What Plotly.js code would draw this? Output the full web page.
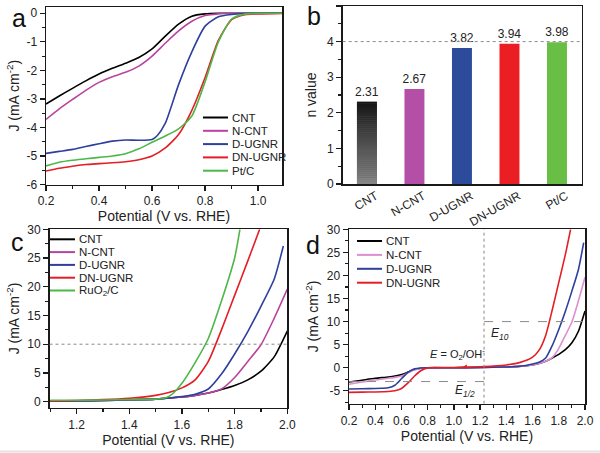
<!DOCTYPE html>
<html><head><meta charset="utf-8">
<script src="https://cdn.plot.ly/plotly-3.0.1.min.js"></script>
<style>html,body{margin:0;padding:0;background:#fff;}#chart{width:600px;height:453px;}</style>
</head><body><div id="chart"></div>
<script>
// ---------------- DATA ----------------
// Panel a: ORR polarisation curves (J vs potential)
const orrNames = ['CNT', 'N-CNT', 'D-UGNR', 'DN-UGNR', 'Pt/C'];
const orrColors = ['#000000', '#b8449f', '#2e3f9c', '#e31e24', '#4db748'];
const orrV_CNT = [0.2,0.25,0.3,0.35,0.4,0.45,0.5,0.55,0.6,0.65,0.7,0.75,0.8,0.85,0.9,1.0,1.1];
const orrJ_CNT = [-3.18,-2.9,-2.63,-2.37,-2.13,-1.93,-1.75,-1.55,-1.25,-0.8,-0.38,-0.1,-0.02,0,0,0,0];
const orrV_NCNT = [0.2,0.25,0.3,0.35,0.4,0.45,0.5,0.55,0.6,0.65,0.7,0.75,0.8,0.85,0.9,1.0,1.1];
const orrJ_NCNT = [-3.72,-3.35,-3.02,-2.7,-2.42,-2.22,-2.07,-1.85,-1.5,-1.05,-0.62,-0.28,-0.08,-0.02,0,0,0];
const orrV_DUGNR = [0.2,0.25,0.3,0.35,0.4,0.45,0.5,0.55,0.6,0.62,0.65,0.7,0.75,0.8,0.85,0.9,0.95,1.0,1.1];
const orrJ_DUGNR = [-4.91,-4.84,-4.77,-4.67,-4.57,-4.48,-4.44,-4.45,-4.42,-4.28,-3.85,-2.5,-1.35,-0.45,-0.12,-0.04,-0.01,0,0];
const orrV_DNUGNR = [0.2,0.25,0.3,0.35,0.4,0.45,0.5,0.55,0.6,0.65,0.7,0.75,0.8,0.85,0.9,0.95,1.0,1.1];
const orrJ_DNUGNR = [-5.53,-5.43,-5.36,-5.3,-5.27,-5.24,-5.2,-5.13,-5.0,-4.72,-4.25,-3.4,-2.25,-0.95,-0.22,-0.05,-0.02,0];
const orrV_PtC = [0.2,0.25,0.3,0.35,0.4,0.45,0.5,0.55,0.6,0.65,0.7,0.75,0.8,0.85,0.9,0.95,1.0,1.1];
const orrJ_PtC = [-5.35,-5.22,-5.15,-5.1,-5.05,-5.0,-4.92,-4.75,-4.52,-4.3,-4.05,-3.6,-2.4,-1.0,-0.2,-0.03,0,0];

// Panel b: electron transfer number
const nCategories = ['CNT', 'N-CNT', 'D-UGNR', 'DN-UGNR', 'Pt/C'];
const nValues = [2.31, 2.67, 3.82, 3.94, 3.98];
const nColors = ['#555555', '#b44fa8', '#2d4b9b', '#eb1e23', '#69be46'];
const nGradientTop = [20, 20, 20];     // CNT bar gradient (rgb) at top
const nGradientBottom = [135, 135, 135]; // ... at bottom
const nIdeal = 4;

// Panel c: OER polarisation curves
const oerNames = ['CNT', 'N-CNT', 'D-UGNR', 'DN-UGNR', 'RuO<sub>2</sub>/C'];
const oerColors = ['#000000', '#b8449f', '#2e3f9c', '#e31e24', '#4db748'];
const oerV_CNT = [1.1,1.2,1.3,1.4,1.5,1.6,1.65,1.7,1.75,1.8,1.85,1.9,1.95,2.0];
const oerJ_CNT = [0.1,0.15,0.2,0.3,0.45,0.8,1.1,1.5,2.1,2.8,3.8,5.3,7.8,12.3];
const oerV_NCNT = [1.1,1.2,1.3,1.4,1.5,1.6,1.65,1.7,1.75,1.8,1.85,1.9,1.95,2.0];
const oerJ_NCNT = [0.1,0.15,0.2,0.3,0.45,0.8,1.1,1.5,2.2,4.2,7.0,9.9,14.5,19.6];
const oerV_DUGNR = [1.1,1.2,1.3,1.4,1.5,1.6,1.65,1.7,1.75,1.8,1.85,1.9,1.95,1.985];
const oerJ_DUGNR = [0.1,0.15,0.2,0.3,0.45,0.9,1.3,2.2,4.8,8.3,12.2,16.6,21.3,27.1];
const oerV_DNUGNR = [1.1,1.2,1.3,1.4,1.5,1.55,1.6,1.65,1.7,1.75,1.8,1.85,1.895];
const oerJ_DNUGNR = [0.1,0.2,0.35,0.6,1.1,1.6,2.4,3.8,7.0,12.5,18.5,24.5,30];
const oerV_RuO2 = [1.1,1.2,1.3,1.4,1.5,1.53,1.55,1.57,1.6,1.65,1.7,1.75,1.8,1.82];
const oerJ_RuO2 = [0.25,0.25,0.3,0.35,0.45,0.6,0.9,1.6,3.2,6.8,11.0,17.5,25.0,30];
const oerRef = 10;

// Panel d: overall ORR + OER window
const biNames = ['CNT', 'N-CNT', 'D-UGNR', 'DN-UGNR'];
const biColors = ['#000000', '#dc8fd2', '#2e3f9c', '#e31e24'];
const biV_CNT = [0.2,0.3,0.4,0.5,0.55,0.6,0.65,0.7,0.75,0.8,1.0,1.2,1.4,1.5,1.6,1.65,1.7,1.75,1.8,1.85,1.9,1.95,2.0];
const biJ_CNT = [-3.1,-2.7,-2.3,-2.0,-1.8,-1.5,-0.95,-0.4,-0.1,0,0,0.05,0.15,0.3,0.6,0.9,1.4,2.1,2.9,3.9,5.4,7.9,12.3];
const biV_NCNT = [0.2,0.3,0.4,0.5,0.55,0.6,0.65,0.7,0.75,0.8,1.0,1.2,1.4,1.5,1.6,1.65,1.7,1.75,1.8,1.85,1.9,1.95,2.0];
const biJ_NCNT = [-3.6,-3.1,-2.65,-2.3,-2.1,-1.8,-1.1,-0.5,-0.12,-0.02,0,0.05,0.15,0.3,0.6,0.9,1.4,2.2,4.2,7.0,9.9,14.5,19.6];
const biV_DUGNR = [0.2,0.3,0.4,0.45,0.5,0.55,0.6,0.65,0.7,0.75,0.8,1.0,1.2,1.4,1.5,1.6,1.65,1.7,1.75,1.8,1.85,1.9,1.95,1.99];
const biJ_DUGNR = [-4.6,-4.55,-4.5,-4.45,-4.35,-3.8,-2.4,-1.0,-0.25,-0.05,0,0,0.05,0.15,0.3,0.8,1.2,2.1,4.8,8.3,12.2,16.6,21.3,27.1];
const biV_DNUGNR = [0.2,0.3,0.4,0.5,0.55,0.6,0.65,0.7,0.75,0.8,1.0,1.1,1.2,1.3,1.4,1.5,1.6,1.65,1.7,1.75,1.8,1.85,1.89];
const biJ_DNUGNR = [-5.35,-5.3,-5.25,-5.15,-5.0,-4.5,-3.3,-1.8,-0.6,-0.05,0.05,0.1,0.2,0.35,0.6,1.1,2.3,3.8,7.0,12.5,18.5,24.5,30];
const biE0 = 1.23;   // thermodynamic O2/OH- potential
const biE10 = 10;    // OER reference current
const biEhalf = -3;  // half-wave current level

// tick labels
const tickA_x = [0.2, 0.4, 0.6, 0.8, 1.0];
const tickA_xt = ['0.2', '0.4', '0.6', '0.8', '1.0'];
const tickA_y = [-6, -5, -4, -3, -2, -1, 0];
const tickA_yt = ['-6', '-5', '-4', '-3', '-2', '-1', '0'];
const tickB_y = [0, 1, 2, 3, 4, 5];
const tickC_x = [1.2, 1.4, 1.6, 1.8, 2.0];
const tickC_xt = ['1.2', '1.4', '1.6', '1.8', '2.0'];
const tickC_y = [0, 5, 10, 15, 20, 25, 30];
const tickD_x = [0.2, 0.4, 0.6, 0.8, 1.0, 1.2, 1.4, 1.6, 1.8, 2.0];
const tickD_xt = ['0.2', '0.4', '0.6', '0.8', '1.0', '1.2', '1.4', '1.6', '1.8', '2.0'];
const tickD_y = [-5, 0, 5, 10, 15, 20, 25, 30];
const tickD_yt = ['-5', '0', '5', '10', '15', '20', '25', '30'];

// ---------------- BUILD ----------------
const FONT = 'Liberation Sans, Arial, Helvetica, sans-serif';
const px = x => x / 600;
const py = y => 1 - y / 453;

const traces = [];
function addLine(x, y, color, xa, ya, name) {
  traces.push({type: 'scatter', mode: 'lines', x: x, y: y, name: name,
    line: {color: color, width: 1.6, shape: 'spline', smoothing: 0.6},
    xaxis: xa, yaxis: ya, showlegend: false, hoverinfo: 'skip'});
}
// panel a
[[orrV_CNT, orrJ_CNT], [orrV_NCNT, orrJ_NCNT], [orrV_DUGNR, orrJ_DUGNR],
 [orrV_DNUGNR, orrJ_DNUGNR], [orrV_PtC, orrJ_PtC]].forEach((s, i) =>
  addLine(s[0], s[1], orrColors[i], 'x', 'y', orrNames[i]));
// panel b
traces.push({type: 'bar', x: nCategories, y: nValues, width: 0.42,
  marker: {color: nColors, line: {width: 0}},
  text: nValues.map(v => v.toFixed(2)), textposition: 'outside', cliponaxis: false,
  constraintext: 'none',
  textfont: {family: FONT, size: 12, color: '#222'},
  xaxis: 'x2', yaxis: 'y2', showlegend: false, hoverinfo: 'skip'});
const NSEG = 40;
for (let i = 0; i < NSEG; i++) {
  const f = (i + 0.5) / NSEG; // 0 bottom -> 1 top
  const c = nGradientBottom.map((b, k) => Math.round(b + (nGradientTop[k] - b) * f));
  traces.push({type: 'bar', x: [nCategories[0]], y: [nValues[0] / NSEG], base: [nValues[0] * i / NSEG],
    width: 0.42, marker: {color: 'rgb(' + c.join(',') + ')', line: {width: 0}},
    textposition: 'none',
    xaxis: 'x2', yaxis: 'y2', showlegend: false, hoverinfo: 'skip'});
}
// panel c
[[oerV_CNT, oerJ_CNT], [oerV_NCNT, oerJ_NCNT], [oerV_DUGNR, oerJ_DUGNR],
 [oerV_DNUGNR, oerJ_DNUGNR], [oerV_RuO2, oerJ_RuO2]].forEach((s, i) =>
  addLine(s[0], s[1], oerColors[i], 'x3', 'y3', oerNames[i]));
// panel d
[[biV_CNT, biJ_CNT], [biV_NCNT, biJ_NCNT], [biV_DUGNR, biJ_DUGNR],
 [biV_DNUGNR, biJ_DNUGNR]].forEach((s, i) =>
  addLine(s[0], s[1], biColors[i], 'x4', 'y4', biNames[i]));

function axis(extra) {
  return Object.assign({
    showline: true, mirror: true, linecolor: '#1a1a1a', linewidth: 1.5,
    ticks: 'outside', ticklen: 5, tickwidth: 1.3, tickcolor: '#1a1a1a',
    showgrid: false, zeroline: false, fixedrange: true,
    tickfont: {family: FONT, size: 12, color: '#222'}
  }, extra);
}
const minor5 = {ticks: 'outside', ticklen: 3, tickwidth: 1.1, tickcolor: '#1a1a1a', showgrid: false};
const titleFont = {family: FONT, size: 14, color: '#222'};

const layout = {
  width: 600, height: 453, margin: {l: 0, r: 0, t: 0, b: 0},
  paper_bgcolor: '#fff', plot_bgcolor: '#fff', showlegend: false, barmode: 'overlay',
  font: {family: FONT, color: '#222'},
  xaxis: axis({domain: [px(46), px(282)], range: [0.2, 1.09], anchor: 'y',
    tickvals: tickA_x, ticktext: tickA_xt, minor: Object.assign({dtick: 0.1, tick0: 0.1}, minor5),
    title: {text: 'Potential (V vs. RHE)', standoff: 1, font: titleFont}}),
  yaxis: axis({domain: [py(184.5), py(7)], range: [-6, 0.22], anchor: 'x',
    tickvals: tickA_y, ticktext: tickA_yt, minor: Object.assign({dtick: 0.5, tick0: 0}, minor5),
    title: {text: 'J (mA cm<sup>-2</sup>)', standoff: 3, font: titleFont}}),
  xaxis2: axis({domain: [px(342.7), px(581.7)], range: [-0.51, 4.52], anchor: 'y2',
    ticks: '', tickangle: -30, type: 'category', ticklabelshift: 9, ticklabelstandoff: -1}),
  yaxis2: axis({domain: [py(184), py(6)], range: [0, 5], anchor: 'x2',
    tickvals: tickB_y, minor: Object.assign({dtick: 0.5, tick0: 0}, minor5),
    title: {text: 'n value', standoff: 7, font: titleFont}}),
  xaxis3: axis({domain: [px(49.5), px(287.3)], range: [1.097, 2.0], anchor: 'y3',
    tickvals: tickC_x, ticktext: tickC_xt, minor: Object.assign({dtick: 0.1, tick0: 1.1}, minor5),
    title: {text: 'Potential (V vs. RHE)', standoff: 1, font: titleFont}}),
  yaxis3: axis({domain: [py(407.7), py(229.3)], range: [-1.05, 30], anchor: 'x3',
    tickvals: tickC_y, minor: Object.assign({dtick: 2.5, tick0: 0}, minor5),
    title: {text: 'J (mA cm<sup>-2</sup>)', standoff: 4, font: titleFont}}),
  xaxis4: axis({domain: [px(349), px(585)], range: [0.2, 2.0], anchor: 'y4',
    tickvals: tickD_x, ticktext: tickD_xt, minor: Object.assign({dtick: 0.1, tick0: 0.1}, minor5),
    title: {text: 'Potential (V vs. RHE)', standoff: 2, font: titleFont}}),
  yaxis4: axis({domain: [py(403.7), py(229.3)], range: [-7.8, 30], anchor: 'x4',
    tickvals: tickD_y, ticktext: tickD_yt, minor: Object.assign({dtick: 2.5, tick0: 0}, minor5),
    title: {text: 'J (mA cm<sup>-2</sup>)', standoff: 5, font: titleFont}}),
  shapes: [], annotations: []
};

const dotted = {color: '#8a8a8a', width: 1, dash: 'dot'};
layout.shapes.push({type: 'line', xref: 'x2 domain', yref: 'y2', x0: 0, x1: 1, y0: nIdeal, y1: nIdeal, line: dotted});
layout.shapes.push({type: 'line', xref: 'x3 domain', yref: 'y3', x0: 0, x1: 1, y0: oerRef, y1: oerRef, line: dotted});
layout.shapes.push({type: 'line', xref: 'x4', yref: 'y4 domain', x0: biE0, x1: biE0, y0: 0, y1: 1, line: dotted});
layout.shapes.push({type: 'line', xref: 'x4', yref: 'y4', x0: biE0, x1: 2.0, y0: biE10, y1: biE10, line: {color: '#8a8a8a', width: 1, dash: 'dash'}});
layout.shapes.push({type: 'line', xref: 'x4', yref: 'y4', x0: 0.2, x1: biE0, y0: biEhalf, y1: biEhalf, line: {color: '#8a8a8a', width: 1, dash: 'dash'}});
// light bottom rule as in reference
layout.shapes.push({type: 'line', xref: 'paper', yref: 'paper', x0: 0, x1: 1, y0: py(451.5), y1: py(451.5), line: {color: '#e2e2e2', width: 2}});

// manual legends
function legend(names, colors, x0, y0, dy) {
  names.forEach((n, i) => {
    const y = y0 + i * dy;
    layout.shapes.push({type: 'line', xref: 'paper', yref: 'paper', x0: px(x0), x1: px(x0 + 25),
      y0: py(y), y1: py(y), line: {color: colors[i], width: 2}});
    layout.annotations.push({xref: 'paper', yref: 'paper', x: px(x0 + 27), y: py(y), text: n,
      showarrow: false, xanchor: 'left', yanchor: 'middle',
      font: {family: FONT, size: 11.5, color: '#222'}});
  });
}
legend(orrNames, orrColors, 203, 117.5, 13.3);
legend(oerNames, oerColors, 50, 239.3, 12.8);
legend(biNames, biColors, 357, 241, 13.9);

// panel letters
[['a', 19, 18], ['b', 314, 16], ['c', 17, 242], ['d', 313, 245]].forEach(l =>
  layout.annotations.push({xref: 'paper', yref: 'paper', x: px(l[1]), y: py(l[2]), text: l[0],
    showarrow: false, xanchor: 'center', yanchor: 'middle', font: {family: FONT, size: 25, color: '#111'}}));

// panel d labels
layout.annotations.push({xref: 'x4', yref: 'y4', x: 1.265, y: 7.4, text: '<i>E</i><sub><i>10</i></sub>',
  showarrow: false, xanchor: 'left', yanchor: 'middle', font: {family: FONT, size: 12, color: '#222'}});
layout.annotations.push({xref: 'x4', yref: 'y4', x: 0.995, y: -5.0, text: '<i>E</i><sub><i>1/2</i></sub>',
  showarrow: false, xanchor: 'left', yanchor: 'middle', font: {family: FONT, size: 12, color: '#222'}});
layout.annotations.push({xref: 'x4', yref: 'y4', x: 0.8, y: 3.0, text: '<i>E</i> = O<sub>2</sub>/OH<sup>-</sup>',
  showarrow: false, xanchor: 'left', yanchor: 'middle', font: {family: FONT, size: 11, color: '#222'}});
// small red marker arrow on the DN-UGNR trace
layout.annotations.push({xref: 'x4', yref: 'y4', x: 1.1, y: 0.7, axref: 'x4', ayref: 'y4', ax: 1.085, ay: 0.1,
  text: '', showarrow: true, arrowhead: 2, arrowsize: 0.7, arrowwidth: 1.2, arrowcolor: '#e31e24'});

Plotly.newPlot('chart', traces, layout, {staticPlot: true, displayModeBar: false});
</script></body></html>
